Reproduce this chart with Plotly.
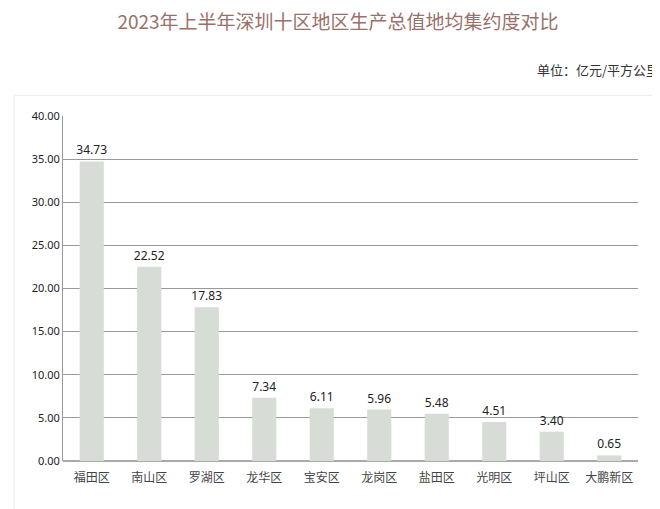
import plotly.graph_objects as go

districts = ["福田区", "南山区", "罗湖区", "龙华区", "宝安区", "龙岗区", "盐田区", "光明区", "坪山区", "大鹏新区"]
density = [34.73, 22.52, 17.83, 7.34, 6.11, 5.96, 5.48, 4.51, 3.40, 0.65]
y_ticks = [0, 5, 10, 15, 20, 25, 30, 35, 40]

fig = go.Figure(go.Bar(
    x=districts, y=density,
    marker=dict(color="#d7ddd6", line=dict(width=0)),
    text=[f"{v:.2f}" for v in density], textposition="outside",
    textfont=dict(size=12, color="#222", family="Noto Sans"),
    cliponaxis=False, width=0.42,
))

fig.update_layout(
    width=660, height=509,
    paper_bgcolor="white", plot_bgcolor="white",
    margin=dict(l=55, r=30, t=108, b=56),
    font=dict(family="Noto Sans CJK SC"),
    uniformtext=dict(minsize=12, mode="show"),
    title=dict(text="2023年上半年深圳十区地区生产总值地均集约度对比",
               x=0.5, xanchor="center", y=0.985, yanchor="top",
               font=dict(size=19, color="#9a706b")),
    showlegend=False,
    annotations=[dict(text="单位：亿元/平方公里", xref="paper", yref="paper",
                      x=1.04, y=1.1, xanchor="right", yanchor="bottom",
                      showarrow=False, font=dict(size=13, color="#333"))],
    shapes=[dict(type="rect", xref="paper", yref="paper", x0=-0.085, x1=1.05, y0=-0.16, y1=1.06,
                 line=dict(color="#ececec", width=1), layer="below")],
)
fig.update_xaxes(showgrid=False, showline=False, ticks="outside", ticklen=6, tickcolor="white",
                 tickfont=dict(size=12, color="#444"))
fig.update_yaxes(range=[0, 40], tickvals=y_ticks, tickformat=".2f",
                 showgrid=True, gridcolor="#999", gridwidth=1,
                 showline=True, linecolor="#999", zeroline=True, zerolinecolor="#aaa",
                 tickfont=dict(size=11, color="#222", family="Noto Sans"))

fig.write_html("out.html")
